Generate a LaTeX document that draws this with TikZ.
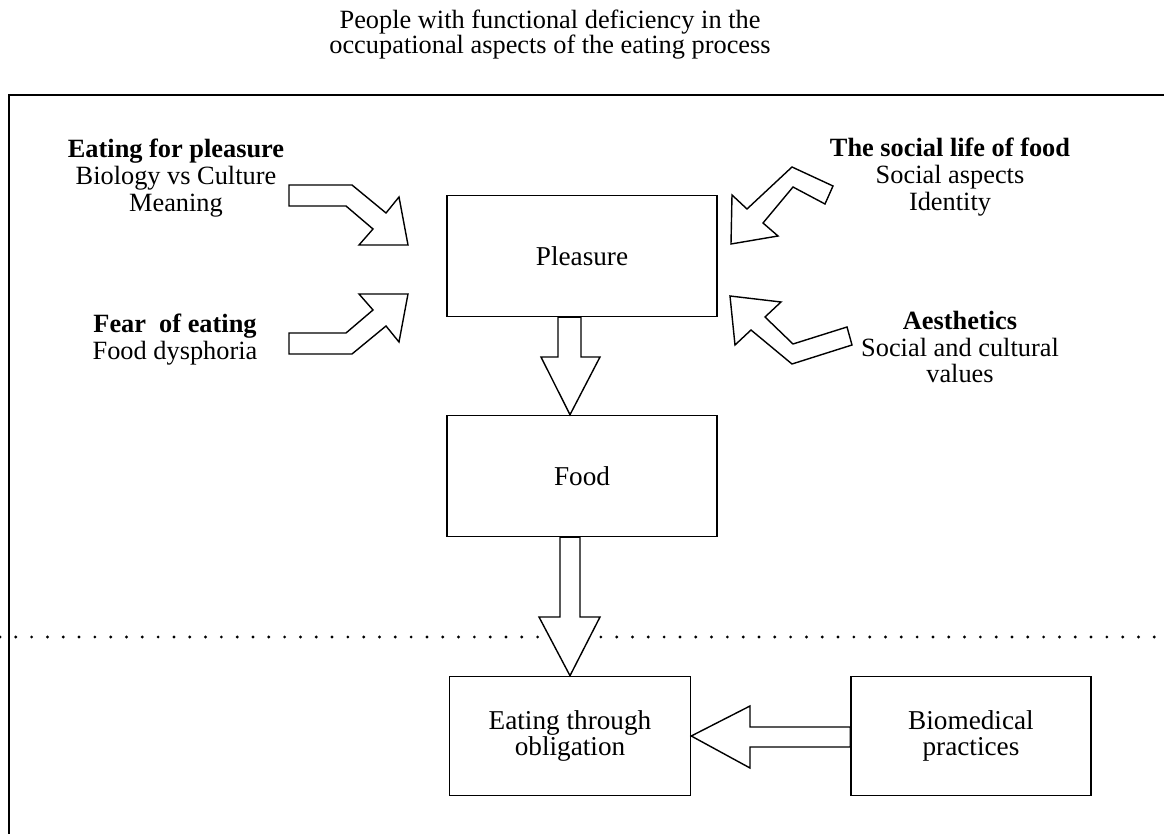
\documentclass[tikz,border=0pt]{standalone}
\usepackage{fontspec}
\setmainfont{Liberation Serif}
\usetikzlibrary{calc}

\begin{document}
\begin{tikzpicture}[x=0.02cm,y=-0.02cm,
  box/.style={draw,line width=0.9pt,minimum width=5.4cm,minimum height=2.42cm,align=center,font=\fontsize{15.5}{15.3}\selectfont},
  txt/.style={align=center,font=\fontsize{15}{15.3}\selectfont},
  blockarrow/.style={draw,line width=0.8pt,fill=white,line join=miter}]
\useasboundingbox (0,0) rectangle (1164,834);
% title and frame
\node[txt,font=\fontsize{15}{14.2}\selectfont] (title) at (550,35) {People with functional deficiency in the\\occupational aspects of the eating process};
\draw[line width=1.1pt] (1164,95) -- (9,95) -- (9,834);
\draw[line width=1.8pt,line cap=round,dash pattern=on 0pt off 9pt] (0,637) -- (1164,637);

% boxes
\node[box] (pleasure) at (582,256) {Pleasure};
\node[box] (food) at (582,476) {Food};
\node[box,minimum width=4.82cm,minimum height=2.38cm] (obligation) at (570,736) {Eating through\\obligation};
\node[box,minimum width=4.8cm,minimum height=2.38cm] (biomedical) at (971,736) {Biomedical\\practices};

% side texts
\node[txt] (eatpleasure) at (176,178) {\textbf{Eating for pleasure}\\Biology vs Culture\\Meaning};
\node[txt] (fear) at (175,340) {\textbf{Fear\ \ of eating}\\Food dysphoria};
\node[txt] (sociallife) at (950,177) {\textbf{The social life of food}\\Social aspects\\Identity};
\node[txt] (aesthetics) at (960,347) {\textbf{Aesthetics}\\Social and cultural\\values};

% block arrows between boxes
\draw[blockarrow] (pleasure.south -| 558,0) -- (558,357) -- (541,357) -- (food.north -| 570,0)
  -- (600,357) -- (581,357) -- (pleasure.south -| 581,0) -- cycle;
\draw[blockarrow] (food.south -| 560,0) -- (560,617) -- (539,617) -- (obligation.north)
  -- (600,617) -- (580,617) -- (food.south -| 580,0) -- cycle;
\draw[blockarrow] (biomedical.west |- 0,727) -- (750,727) -- (750,706) -- (obligation.east)
  -- (750,768) -- (750,747) -- (biomedical.west |- 0,747) -- cycle;

% bent arrows
\draw[blockarrow] (289,185) -- (352,185) -- (386,213) -- (399,197) -- (408,245) -- (359,245)
  -- (373,229) -- (346,206) -- (289,206) -- cycle;
\draw[blockarrow] (289,354) -- (352,354) -- (386,326) -- (399,342) -- (408,294) -- (359,294)
  -- (373,310) -- (346,333) -- (289,333) -- cycle;
\draw[blockarrow] (833,186) -- (792,167) -- (747,209) -- (732,195) -- (731,244) -- (778,236)
  -- (763,223) -- (793,187) -- (825,204) -- cycle;
\draw[blockarrow] (730,296) -- (781,302) -- (765,317) -- (793,344) -- (847,327) -- (852,345)
  -- (792,364) -- (751,330) -- (735,345) -- cycle;
\end{tikzpicture}
\end{document}
